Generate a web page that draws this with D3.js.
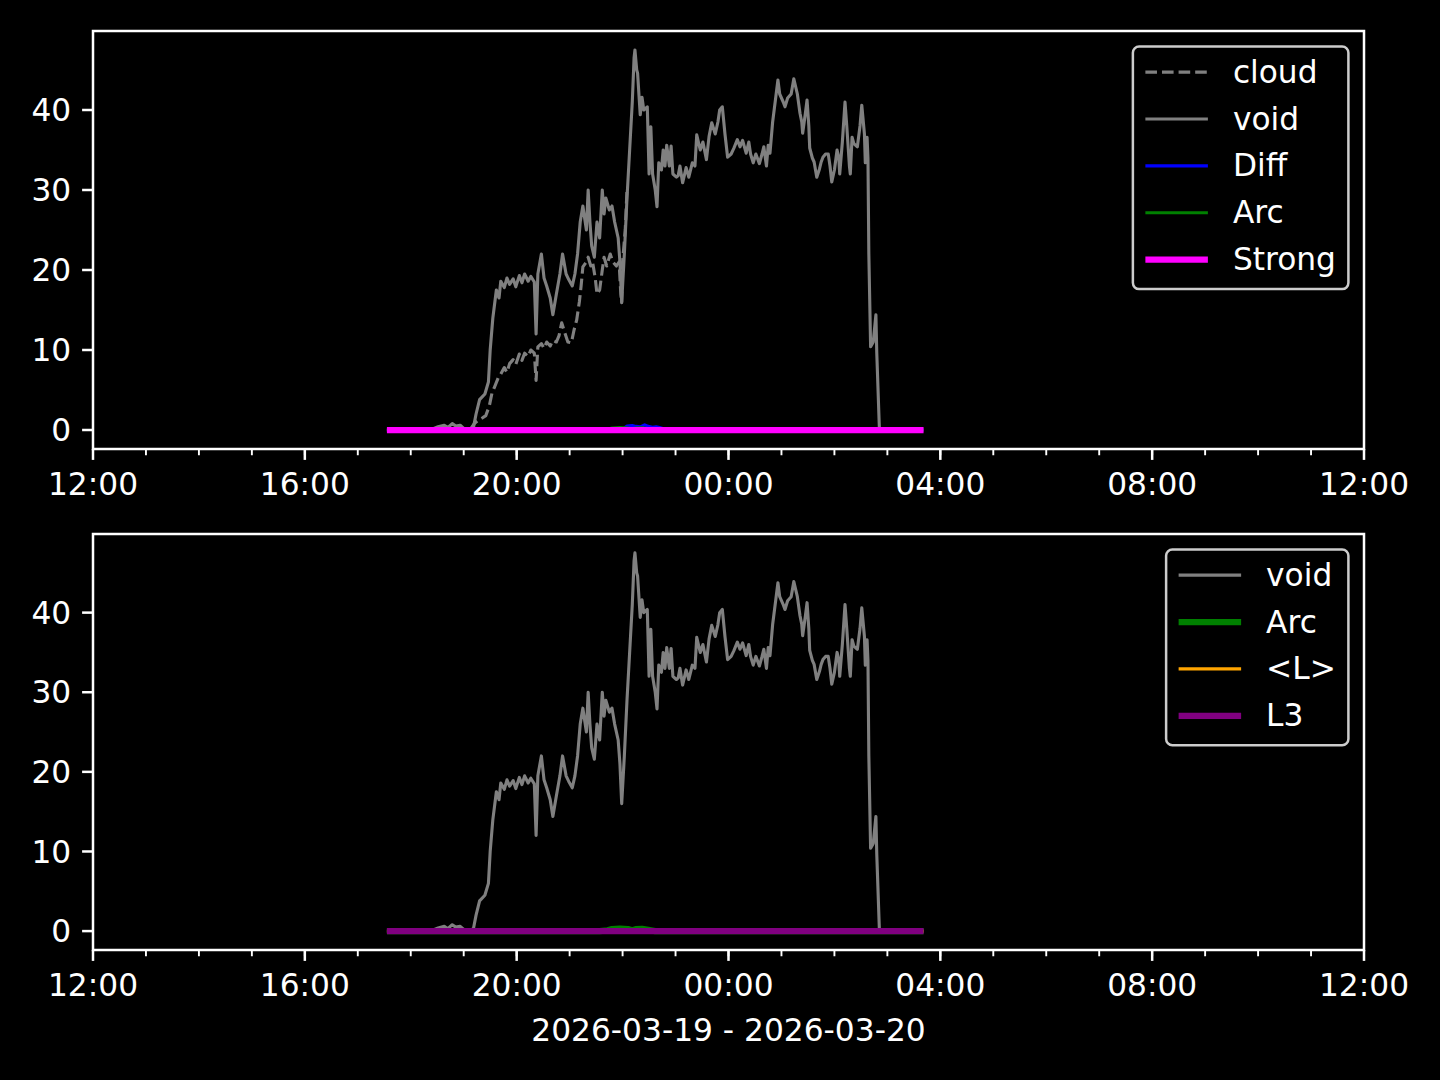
<!DOCTYPE html>
<html>
<head>
<meta charset="utf-8">
<script src="https://cdn.jsdelivr.net/npm/d3@7"></script>
<style>
  body { margin: 0; background: #000; }
  svg { display: block; font-family: "DejaVu Sans", sans-serif; }
</style>
</head>
<body>
<div id="chart"></div>
<script>
// values, time of day -> value
var cloudData = [["17:33",0],["19:07",0],["19:12",0.8],["19:16",1.2],["19:21",1.5],["19:25",1.8],["19:29",3],["19:32",4.6],["19:35",5.4],["19:39",6.5],["19:42",7],["19:46",7.8],["19:49",7.2],["19:52",8.3],["19:56",8.8],["19:59",8.2],["20:03",9.5],["20:06",8.7],["20:09",9.6],["20:13",9.2],["20:16",10],["20:20",9.6],["20:22",6.2],["20:24",10.4],["20:28",10.8],["20:31",10.2],["20:34",11],["20:38",10.5],["20:41",11.2],["20:45",11],["20:48",11.8],["20:51",13.4],["20:55",12],["20:58",11],["21:02",10.9],["21:05",12.5],["21:08",13.75],["21:11",16],["21:13",18],["21:15",20.4],["21:19",21],["21:21",21.6],["21:24",20.5],["21:26",21],["21:29",19],["21:31",17],["21:34",17.5],["21:37",20],["21:39",21.6],["21:42",20.5],["21:46",22],["21:49",21],["21:53",20.5],["21:56",21],["21:58",17],["21:59",15.9],["22:00",21],["22:03",25],["22:05",30]];

var voidData = [["17:33",0],["18:22",0],["18:31",0.4],["18:38",0.6],["18:42",0.3],["18:47",0.8],["18:51",0.5],["18:56",0.6],["19:00",0.2],["19:05",0],["19:11",0.3],["19:14",2],["19:18",3.8],["19:24",4.5],["19:28",6],["19:30",10],["19:33",14],["19:37",17.5],["19:40",16.5],["19:42",18.6],["19:46",17.8],["19:49",19],["19:52",18.2],["19:56",18.9],["19:59",17.9],["20:03",19.3],["20:06",18.4],["20:09",19.5],["20:13",18.6],["20:16",19.2],["20:20",18.5],["20:22",12],["20:24",19.5],["20:28",22],["20:31",19],["20:34",18],["20:38",16.5],["20:41",14.4],["20:45",17],["20:49",19.5],["20:52",22],["20:56",19.5],["20:59",18.8],["21:03",18],["21:06",19.5],["21:09",22],["21:12",26],["21:15",28],["21:19",25],["21:21",30],["21:23",26],["21:25",23],["21:28",21.6],["21:31",26],["21:34",24],["21:37",30],["21:39",27],["21:41",29],["21:45",27.5],["21:48",28],["21:51",26],["21:55",24],["21:57",21],["21:59",16],["22:02",22],["22:05",29],["22:08",35],["22:11",41],["22:13",46.5],["22:14",47.5],["22:16",45],["22:17",44.6],["22:20",39.4],["22:22",41.6],["22:24",40],["22:28",40.4],["22:30",32],["22:32",37.9],["22:34",32],["22:37",30],["22:39",27.9],["22:41",33.4],["22:44",32.5],["22:46",35],["22:48",33],["22:50",35.6],["22:53",33],["22:55",35.5],["22:57",32],["23:01",31.6],["23:03",31.8],["23:05",33],["23:08",30.9],["23:12",32.8],["23:15",31.6],["23:19",33.4],["23:22",33],["23:24",36.9],["23:28",35],["23:31",36],["23:35",33.8],["23:38",36.7],["23:41",38.4],["23:45",37],["23:48",38.5],["23:50",40],["23:53",40.4],["23:56",37],["23:59",34.1],["00:03",34.5],["00:06",35.2],["00:10",36.3],["00:13",35.4],["00:16",36.2],["00:20",34.6],["00:23",36],["00:25",34.5],["00:28",33.4],["00:31",34.5],["00:35",33.3],["00:38",34.5],["00:40",35.4],["00:43",33],["00:45",35.6],["00:47",34.6],["00:50",38.5],["00:54",42],["00:56",43.75],["00:58",42],["01:02",41],["01:04",40.4],["01:07",41.5],["01:11",42],["01:14",43.9],["01:18",42],["01:21",39.6],["01:23",38.5],["01:24",37.1],["01:27",39.5],["01:29",41.25],["01:31",38],["01:32",35.25],["01:35",34],["01:37",33.5],["01:40",31.6],["01:43",32.6],["01:45",33.5],["01:47",34.1],["01:50",34.5],["01:53",34.5],["01:55",33],["01:57",31],["02:00",32.5],["02:03",35],["02:05",34],["02:06",32],["02:09",36],["02:12",41],["02:14",38],["02:17",33],["02:18",32],["02:20",36.6],["02:22",35.8],["02:26",35.4],["02:29",38],["02:31",40.6],["02:34",37],["02:35",33.4],["02:37",36.6],["02:38",34],["02:39",22],["02:41",10.4],["02:44",11],["02:47",14.4],["02:48",9.6],["02:51",0]];

var diffData = [["17:33",0],["21:59",0],["22:05",0.5],["22:11",0.55],["22:15",0.45],["22:20",0.4],["22:25",0.65],["22:29",0.45],["22:34",0.35],["22:38",0.4],["22:42",0.3],["22:48",0.1],["22:54",0],["03:41",0]];
var arcData = [["17:33",0],["21:34",0],["21:43",0.1],["21:48",0.25],["21:57",0.3],["22:06",0.25],["22:11",0.1],["22:15",0.25],["22:22",0.28],["22:29",0.15],["22:37",0],["03:41",0]];
var strongData = [["17:33",0],["03:41",0]];
var lMeanData = [["17:33",0],["03:41",0]];
var l3Data = [["17:33",0],["03:41",0]];

var yTicks = [0, 10, 20, 30, 40];
var xLabel = "2026-03-19 - 2026-03-20";

var panels = [
  {top: 31, bottom: 449, series: [
    {name: "cloud", data: cloudData, color: "#808080", width: 3.1, dash: "11.6,5"},
    {name: "void", data: voidData, color: "#808080", width: 3.1},
    {name: "Diff", data: diffData, color: "#0000ff", width: 3.1},
    {name: "Arc", data: arcData, color: "#008000", width: 3.1},
    {name: "Strong", data: strongData, color: "#ff00ff", width: 6.25}
  ]},
  {top: 534, bottom: 950, series: [
    {name: "void", data: voidData, color: "#808080", width: 3.1},
    {name: "Arc", data: arcData, color: "#008000", width: 6.25},
    {name: "<L>", data: lMeanData, color: "#ffa500", width: 3.1},
    {name: "L3", data: l3Data, color: "#800080", width: 6.25}
  ]}
];

function toDate(s){
  var h = +s.slice(0,2), m = +s.slice(3,5);
  var day = h < 12 ? 20 : 19;
  return new Date(2026, 2, day, h, m);
}

var W = 1440, H = 1080, left = 93, right = 1364, fs = 31.25;

var svg = d3.select("#chart").append("svg")
  .attr("width", W).attr("height", H);
svg.append("rect").attr("width", W).attr("height", H).attr("fill", "#000");

var x = d3.scaleTime()
  .domain([new Date(2026,2,19,12,0), new Date(2026,2,20,12,0)])
  .range([left, right]);

panels.forEach(function(p, pi){
  var y = d3.scaleLinear().domain([-2.375, 49.875]).range([p.bottom, p.top]);
  var g = svg.append("g");

  g.append("clipPath").attr("id", "clip" + pi)
    .append("rect").attr("x", left).attr("y", p.top)
    .attr("width", right - left).attr("height", p.bottom - p.top);

  var line = d3.line()
    .x(function(d){ return x(toDate(d[0])); })
    .y(function(d){ return y(d[1]); });

  var plot = g.append("g").attr("clip-path", "url(#clip" + pi + ")");
  p.series.forEach(function(s){
    plot.append("path")
      .datum(s.data)
      .attr("d", line)
      .attr("fill", "none")
      .attr("stroke", s.color)
      .attr("stroke-width", s.width)
      .attr("stroke-linejoin", "round")
      .attr("stroke-dasharray", s.dash || null);
  });

  // spines
  g.append("rect")
    .attr("x", left).attr("y", p.top)
    .attr("width", right - left).attr("height", p.bottom - p.top)
    .attr("fill", "none").attr("stroke", "#fff").attr("stroke-width", 2.5);

  // y axis
  var yt = g.selectAll(".ytick").data(yTicks).enter().append("g")
    .attr("transform", function(d){ return "translate(0," + y(d) + ")"; });
  yt.append("line").attr("x1", left).attr("x2", left - 10.9)
    .attr("stroke", "#fff").attr("stroke-width", 2.5);
  yt.append("text").attr("x", left - 21.8).attr("dy", "0.36em")
    .attr("text-anchor", "end").attr("fill", "#fff").attr("font-size", fs)
    .text(function(d){ return d; });

  // x axis, minor ticks each hour, major each 4 hours
  g.selectAll(".xminor").data(x.ticks(d3.timeHour.every(1))).enter().append("line")
    .attr("x1", x).attr("x2", x)
    .attr("y1", p.bottom).attr("y2", p.bottom + 6.25)
    .attr("stroke", "#fff").attr("stroke-width", 1.9);
  var xt = g.selectAll(".xtick").data(x.ticks(d3.timeHour.every(4))).enter().append("g")
    .attr("transform", function(d){ return "translate(" + x(d) + ",0)"; });
  xt.append("line").attr("y1", p.bottom).attr("y2", p.bottom + 10.9)
    .attr("stroke", "#fff").attr("stroke-width", 2.5);
  xt.append("text").attr("y", p.bottom + 46)
    .attr("text-anchor", "middle").attr("fill", "#fff").attr("font-size", fs)
    .text(d3.timeFormat("%H:%M"));

  // legend
  var rowH = 46.9, pad = 12.5, handleLen = 62.5, textPad = 25;
  var leg = g.append("g");
  var box = leg.append("rect")
    .attr("fill", "#000").attr("stroke", "#cccccc").attr("stroke-width", 2.5)
    .attr("rx", 6.25).attr("ry", 6.25);
  var rows = leg.selectAll(".row").data(p.series).enter().append("g")
    .attr("transform", function(d, i){ return "translate(0," + (25.5 + i * rowH) + ")"; });
  rows.append("line")
    .attr("x1", pad).attr("x2", pad + handleLen)
    .attr("stroke", function(d){ return d.color; })
    .attr("stroke-width", function(d){ return d.width; })
    .attr("stroke-dasharray", function(d){ return d.dash || null; });
  var labels = rows.append("text")
    .attr("x", pad + handleLen + textPad).attr("dy", 10.5)
    .attr("fill", "#fff").attr("font-size", fs)
    .text(function(d){ return d.name; });
  var maxW = 0;
  labels.each(function(){ maxW = Math.max(maxW, this.getComputedTextLength()); });
  var bw = pad * 2 + handleLen + textPad + maxW;
  var bh = p.series.length * rowH + 8;
  box.attr("width", bw).attr("height", bh);
  leg.attr("transform", "translate(" + (right - 15.6 - bw) + "," + (p.top + 15.6) + ")");
});

svg.append("text")
  .attr("x", (left + right) / 2).attr("y", 1041)
  .attr("text-anchor", "middle").attr("fill", "#fff").attr("font-size", fs)
  .text(xLabel);
</script>
</body>
</html>
